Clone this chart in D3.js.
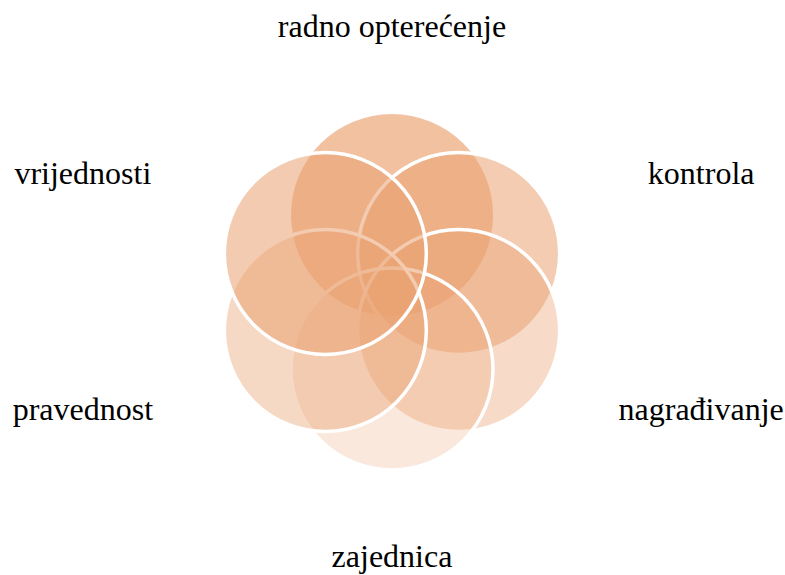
<!DOCTYPE html>
<html>
<head>
<meta charset="utf-8">
<script src="https://cdn.jsdelivr.net/npm/d3@7"></script>
<style>
  html, body { margin: 0; padding: 0; background: #ffffff; }
  svg { display: block; }
</style>
</head>
<body>
<svg id="chart" width="785" height="575"></svg>
<script>
// ---- data ----
const categories = ["radno opterećenje", "kontrola", "nagrađivanje", "zajednica", "pravednost", "vrijednosti"];
const fillOpacity = [0.68, 0.55, 0.4, 0.25, 0.41, 0.56];
const hasStroke = [false, true, true, true, true, true];

// ---- layout ----
const cx = 392, cy = 292;
const ringR = 77;      // distance of circle centres from middle
const circleR = 101;   // circle radius
const baseColor = "rgb(234,163,115)";

const svg = d3.select("#chart");

const angle = d3.scaleLinear()
  .domain([0, categories.length])
  .range([0, 2 * Math.PI]);

const nodes = categories.map((c, i) => ({
  name: c,
  a: angle(i),
  op: fillOpacity[i],
  stroke: hasStroke[i]
}));

svg.append("g")
  .selectAll("circle")
  .data(nodes)
  .join("circle")
  .attr("cx", d => cx + ringR * Math.sin(d.a))
  .attr("cy", d => cy - ringR * Math.cos(d.a))
  .attr("r", circleR)
  .attr("fill", baseColor)
  .attr("fill-opacity", d => d.op)
  .attr("stroke", d => d.stroke ? "#ffffff" : "none")
  .attr("stroke-width", 3.5);

// label placement
const labelRx = 357;
const labelRy = d3.scaleLinear().domain([0.5, 1]).range([118, 265]);

svg.append("g")
  .selectAll("text")
  .data(nodes)
  .join("text")
  .attr("x", d => cx + labelRx * Math.sin(d.a))
  .attr("y", d => {
    const c = Math.cos(d.a);
    return cy - Math.sign(c) * labelRy(Math.abs(c));
  })
  .attr("text-anchor", "middle")
  .attr("dy", "0.32em")
  .style("font-family", '"Liberation Serif", "Times New Roman", serif')
  .style("font-size", "32px")
  .style("fill", "#000")
  .text(d => d.name);
</script>
</body>
</html>
